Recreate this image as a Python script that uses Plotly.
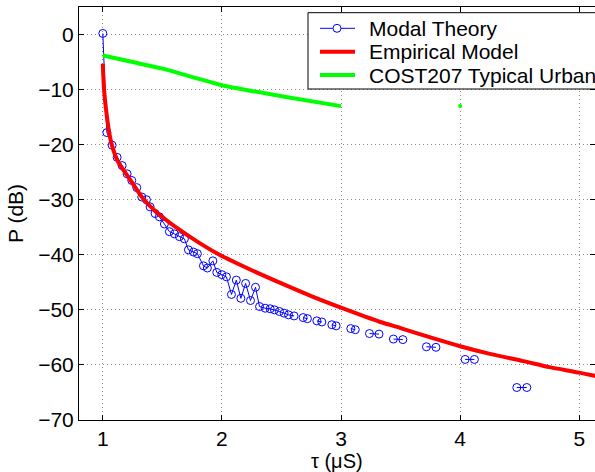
import plotly.graph_objects as go

# Modal theory power delay profile (None breaks the line between point pairs)
tau_modal = [1.000, 1.034, 1.078, 1.120, 1.162, 1.204, 1.243, 1.285, 1.327, 1.366,
             1.397, 1.439, 1.475, 1.517, 1.559, 1.601, 1.643, 1.685, 1.719, 1.761,
             1.794, 1.845, 1.878, 1.924, 1.957, 1.999, 2.038, 2.080, 2.121, 2.159,
             2.199, 2.240, 2.282, 2.316, 2.363, 2.405, 2.441, 2.483, 2.522, 2.559,
             2.606, None,
             2.682, 2.718, None, 2.797, 2.839, None, 2.923, 2.959, None,
             3.082, 3.120, None, 3.239, 3.319, None, 3.440, 3.519, None,
             3.717, 3.797, None, 4.042, 4.120, None, 4.476, 4.560]
p_modal = [0.2, -17.8, -20.1, -22.3, -23.8, -25.3, -26.5, -27.8, -29.5, -30.0,
           -31.3, -32.5, -33.1, -34.4, -35.8, -36.2, -36.7, -37.1, -39.1, -39.5,
           -39.8, -42.0, -42.4, -41.1, -43.2, -43.6, -44.0, -47.2, -44.6, -47.9,
           -45.2, -48.3, -45.9, -49.4, -49.7, -49.8, -50.0, -50.3, -50.6, -50.9,
           -51.1, None,
           -51.4, -51.6, None, -52.0, -52.2, None, -52.7, -52.9, None,
           -53.4, -53.6, None, -54.3, -54.4, None, -55.3, -55.4, None,
           -56.7, -56.8, None, -59.0, -59.0, None, -64.1, -64.1]

# Empirical model curve
tau_emp = [1.000, 1.003, 1.011, 1.028, 1.050, 1.075, 1.130, 1.215, 1.345, 1.470,
           1.607, 1.800, 1.980, 2.250, 2.500, 2.750, 3.000, 3.330, 3.500, 3.750,
           4.000, 4.250, 4.530, 4.750, 5.000, 5.200]
p_emp = [-5.3, -7.0, -10.2, -13.8, -17.3, -20.0, -23.2, -25.9, -30.0, -32.6,
         -34.9, -37.7, -40.0, -42.8, -45.2, -47.5, -49.6, -52.2, -53.3, -55.0,
         -56.6, -58.0, -59.3, -60.4, -61.4, -62.3]

# COST207 typical urban profile
tau_cost = [1.0, 1.5, 2.0, 2.5, 3.0]
p_cost = [-3.8, -6.2, -9.2, -11.2, -13.0]
tau_cost_pt = [4.0]
p_cost_pt = [-13.0]

x_ticks = [1, 2, 3, 4, 5]
y_ticks = [0, -10, -20, -30, -40, -50, -60, -70]

legend_names = ["Modal Theory", "Empirical Model", "COST207 Typical Urban"]
legend_colors = ["#0000ff", "#ff0000", "#00ff00"]
legend_widths = [1, 4, 4]

FONT = "Liberation Sans, Arial, Helvetica, sans-serif"
FS = 21

W, H = 595, 472
ML, MR, MT, MB = 79, 0, 7, 52
PW, PH = W - ML - MR, H - MT - MB


def px(xp):
    """Horizontal pixel position -> paper fraction."""
    return (xp - ML) / PW


def py(yp):
    """Vertical pixel position (from top) -> paper fraction."""
    return (H - MB - yp) / PH


fig = go.Figure()
fig.add_trace(go.Scatter(
    x=tau_modal, y=p_modal, name=legend_names[0], mode="lines+markers",
    line=dict(color=legend_colors[0], width=1),
    marker=dict(symbol="circle-open", size=8, color=legend_colors[0], line=dict(width=1)),
    connectgaps=False, showlegend=False,
))
fig.add_trace(go.Scatter(
    x=tau_emp, y=p_emp, name=legend_names[1], mode="lines",
    line=dict(color=legend_colors[1], width=4, shape="spline", smoothing=0.6),
    showlegend=False,
))
fig.add_trace(go.Scatter(
    x=tau_cost, y=p_cost, name=legend_names[2], mode="lines",
    line=dict(color=legend_colors[2], width=4, shape="spline", smoothing=0.5),
    showlegend=False,
))
fig.add_trace(go.Scatter(
    x=tau_cost_pt, y=p_cost_pt, mode="markers", showlegend=False,
    marker=dict(color=legend_colors[2], size=4),
))

axis_common = dict(
    showline=True, linecolor="black", linewidth=1, mirror="ticks",
    ticks="inside", ticklen=5, tickcolor="black",
    showgrid=True, gridcolor="#8c8c8c", griddash="1px,3px", gridwidth=1,
    zeroline=False, tickfont=dict(family=FONT, size=FS, color="black"),
)

fig.update_xaxes(
    range=[0.8, 0.8 + PW / 119.1], tickvals=x_ticks, ticklabelstandoff=0,
    **axis_common,
)
fig.update_yaxes(
    range=[-70, 5], tickvals=y_ticks,
    title=dict(text="P (dB)", font=dict(family=FONT, size=FS, color="black"), standoff=8),
    **axis_common,
)

# Boxed legend in the upper right corner
shapes = [dict(
    type="rect", xref="paper", yref="paper",
    x0=px(308), x1=px(640), y0=py(89), y1=py(12.7),
    line=dict(color="black", width=1), fillcolor="white", layer="above",
)]
annotations = []
row_y = [28.3, 51.7, 75.0]
for name, color, lw, ry in zip(legend_names, legend_colors, legend_widths, row_y):
    shapes.append(dict(
        type="line", xref="paper", yref="paper",
        x0=px(320), x1=px(355), y0=py(ry), y1=py(ry),
        line=dict(color=color, width=lw), layer="above",
    ))
    annotations.append(dict(
        xref="paper", yref="paper", x=px(367), y=py(ry),
        xanchor="left", yanchor="middle", showarrow=False, text=name,
        font=dict(family=FONT, size=FS, color="black"),
    ))
shapes.append(dict(
    type="circle", xref="paper", yref="paper",
    xsizemode="pixel", ysizemode="pixel",
    xanchor=px(337), yanchor=py(row_y[0]),
    x0=-4, x1=4, y0=-4, y1=4,
    line=dict(color=legend_colors[0], width=1), fillcolor="white", layer="above",
))

# x-axis title, centred under the axis at the bottom edge
annotations.append(dict(
    xref="paper", yref="paper", x=0.5, y=py(H + 1), yanchor="bottom",
    xanchor="center", showarrow=False, text="τ (μS)", borderpad=0,
    font=dict(family=FONT, size=20, color="black"),
))

fig.update_layout(
    width=W, height=H,
    margin=dict(l=ML, r=MR, t=MT, b=MB, autoexpand=False),
    plot_bgcolor="white", paper_bgcolor="white",
    font=dict(family=FONT, size=FS, color="black"),
    showlegend=False,
    shapes=shapes, annotations=annotations,
)

fig.write_html("out.html")
